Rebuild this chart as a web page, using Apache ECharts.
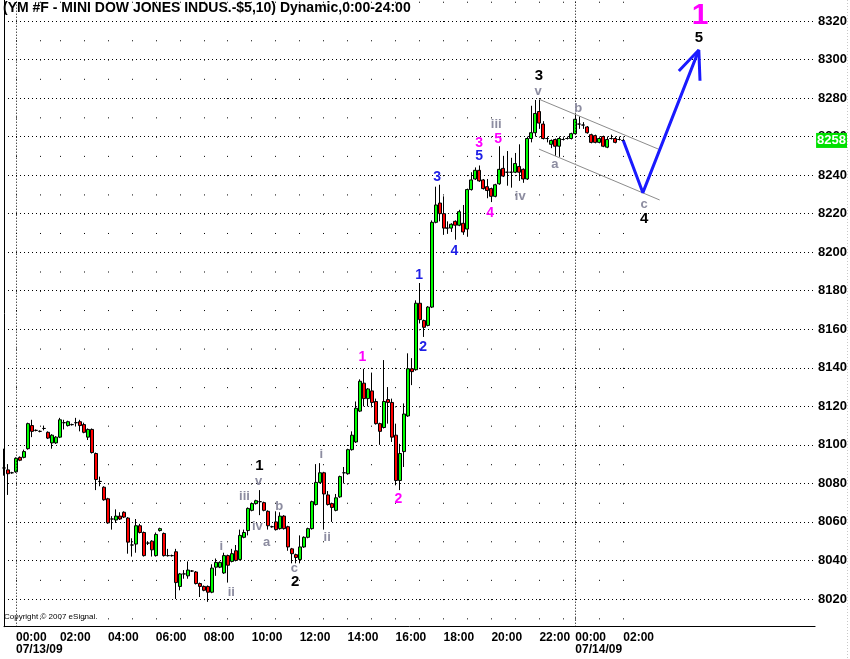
<!DOCTYPE html>
<html><head><meta charset="utf-8">
<script src="https://cdn.jsdelivr.net/npm/echarts@6/dist/echarts.min.js"></script>
<style>html,body{margin:0;padding:0;background:#fff}#c{width:850px;height:659px}</style>
</head><body><div id="c"></div>
<script>
// ---- 10-minute bars: [open, close, low, high] ----
const ohlc = [
[8088,8088,8084,8098],[8087,8085,8074,8090],[8085.5,8085.5,8085,8086],[8086,8093,8085.5,8093.5],[8093.5,8092,8091.5,8094],
[8093.5,8096.5,8093,8097.5],[8098,8111,8097.5,8111.5],[8110,8107,8104,8113],[8107.5,8107.5,8107,8108],[8107,8107,8106.5,8107.5],
[8108.5,8108.5,8107.5,8110],[8106.5,8103.5,8103,8107],[8101,8105,8098,8105.5],[8101,8104,8100.5,8104.5],[8104,8113,8103.5,8114],
[8111.5,8111.5,8108,8113],[8110,8112,8109.5,8112.5],[8110.5,8110.5,8110,8111],[8111.5,8111.5,8109.5,8114],[8112,8110,8107,8113],
[8110.5,8106.5,8106,8111.5],[8104,8108,8102.5,8108.5],[8108,8096,8095.5,8108.5],[8095.5,8082,8076.5,8096],[8081,8081,8078.5,8083.5],
[8078,8071.5,8071,8078.5],[8072,8059.5,8059,8072.5],[8061.5,8061.5,8056,8063],[8061,8063,8059.5,8066.5],[8063,8061.5,8061,8065],
[8065,8062.5,8062,8065.5],[8062,8049.5,8043.5,8062.5],[8048,8048,8042,8051.5],[8048.5,8058,8044,8061.5],[8058,8054.5,8054,8059],
[8054.5,8042.5,8042,8055],[8049,8049,8048,8050],[8050,8045.5,8042,8050.5],[8042.5,8053.5,8042,8054.5],[8055.5,8056.5,8055,8057],
[8054,8042.5,8042,8054.5],[8042.5,8042.5,8042,8046],[8042.5,8042.5,8042,8043],[8044.5,8028.5,8020,8046],[8026.5,8033,8024.5,8033.5],
[8033,8033,8030.5,8035],[8032,8035,8030.5,8039.5],[8034.5,8034.5,8034,8035],[8034,8028,8027.5,8034.5],[8028,8026.5,8021,8028.5],
[8026.5,8024.5,8024,8027],[8026.5,8023.5,8018.5,8027],[8023.5,8036,8023,8038],[8036.5,8039,8032,8041],[8036.5,8039,8036,8039.5],
[8033.5,8042.5,8033,8044],[8042.5,8037.5,8028.5,8043],[8039.5,8043.5,8039,8046],[8045,8040,8039.5,8048],[8040.5,8053,8040,8056],
[8052,8054.5,8051.5,8056],[8055.5,8067,8053,8067.5],[8066,8069.5,8065.5,8070],[8069.5,8071,8069,8071.5],[8070.5,8070.5,8063.5,8076.5],
[8070,8066,8065.5,8070.5],[8065.5,8058,8056,8066],[8057.5,8057.5,8057,8058],[8060,8056,8055.5,8065.5],[8056.5,8063,8056,8065],
[8063,8056.5,8056,8063.5],[8057.5,8047,8045,8058],[8046,8043.5,8038.5,8046.5],[8043,8041.5,8038.5,8043.5],[8040.5,8047,8038.5,8053],
[8047,8052,8046.5,8052.5],[8052,8056.5,8051.5,8057],[8056.5,8070.5,8056,8071],[8069,8080.5,8068.5,8090],[8080.5,8085.5,8080,8090.5],
[8085.5,8074.5,8056,8086],[8074,8069,8068.5,8076],[8069.5,8067.5,8060,8070],[8066,8072.5,8065.5,8074.5],[8073,8083.5,8072.5,8084],
[8085.5,8085.5,8080,8088.5],[8085,8097.5,8084.5,8098],[8097.5,8105,8097,8107],[8101.5,8119,8101,8122.5],[8117.5,8133,8117,8134],
[8132,8124,8120,8139.5],[8124,8129,8120,8129.5],[8128,8122,8120,8137.5],[8122.5,8111,8110.5,8124],[8111,8107,8100,8111.5],
[8109,8122.5,8108.5,8144],[8123.5,8122,8111,8130],[8122,8104,8101.5,8124],[8105,8081.5,8079,8111],[8081.5,8095.5,8076.5,8100.5],
[8096.5,8116,8088.5,8121.5],[8115,8139.5,8114.5,8147.5],[8139.5,8138,8131,8145],[8139,8173.5,8138.5,8175],[8173.5,8165,8163,8184],
[8164.5,8161,8156,8165],[8162,8171.5,8161.5,8172],[8171.5,8215.5,8171,8216.5],[8215.5,8224.5,8215,8234],[8225.5,8220,8216,8235],
[8220,8212.5,8209,8229],[8212.5,8212.5,8209.5,8216],[8212.5,8214.5,8210.5,8215],[8216,8214,8206.5,8216.5],[8214,8221,8213.5,8222],
[8215,8210.5,8209,8224.5],[8212,8232.5,8208,8233],[8232.5,8237.5,8232,8241.5],[8238,8242.5,8237.5,8244],[8242.5,8237,8236.5,8245],
[8237.5,8233,8232.5,8238],[8234,8232,8228,8238],[8233,8229,8226,8233.5],[8229,8235,8228.5,8235.5],[8235.5,8243,8235,8255],
[8243.5,8239.5,8239,8250],[8241.5,8241.5,8234.5,8252.5],[8241.5,8241.5,8233.5,8249],[8241.5,8246,8241,8251.5],[8244.5,8241.5,8237,8256],
[8243,8238,8236,8243.5],[8238,8259,8237.5,8260],[8259,8262,8257,8276],[8262,8272,8260,8279],[8273,8267,8264,8280],
[8266.5,8259,8258.5,8268],[8259,8259,8257,8260],[8256,8258,8254,8258.5],[8258.5,8255,8250,8259],[8255,8259,8249.5,8260],
[8258.5,8258.5,8258,8259.5],[8259,8259,8258.5,8260],[8259,8261.5,8258.5,8262],[8261.5,8269,8261,8271.5],[8266.5,8266.5,8264,8270.5],
[8266,8266,8264,8267.5],[8265,8262,8261.5,8265.5],[8261,8257,8256.5,8261.5],[8260.5,8257,8256.5,8261],[8257,8259,8256.5,8259.5],
[8260,8255,8254.5,8260.5],[8254.5,8258.5,8254,8260],[8259,8259,8258.5,8261],[8259,8257,8256.5,8260],[8258.5,8258.5,8258,8260],
[8258,8258,8257.5,8259]
];
const lastPrice = 8258;
const yTickValues = [8020,8040,8060,8080,8100,8120,8140,8160,8180,8200,8220,8240,8260,8280,8300,8320];

// ---- time categories (10-minute bars, some empty intervals absent) ----
const firstBars = ['07/12/09 23:00','07/12/09 23:20','07/12/09 23:40'];
const missingBars = ['07/13/09 01:30','07/13/09 23:10','07/13/09 23:30','07/13/09 23:50'];
const dayDates = ['07/13/09','07/14/09'];
const totalSlots = 204;
const categories = firstBars.slice();
for (const d of dayDates) {
  for (let m = 0; m < 1440 && categories.length < totalSlots; m += 10) {
    const t = d + ' ' + String(Math.floor(m/60)).padStart(2,'0') + ':' + String(m%60).padStart(2,'0');
    if (!missingBars.includes(t)) categories.push(t);
  }
}
const lastBar = ohlc.length - 1;

// ---- Elliott wave annotations: [text, barIndex, price] ----
const blackWaves = [['1',63.9,8089],['2',72.9,8028.8],['3',133.9,8291.4],['4',160.2,8217.2],['5',173.9,8311.2]];
const greyWaves = [['i',54.4,8047.5],['ii',56.9,8023.6],['iii',60.2,8073.4],['iv',63.4,8057.4],['v',63.7,8081.2],
  ['a',65.7,8049.6],['b',68.9,8068.2],['c',72.7,8036.1],['i',79.4,8095],['ii',80.9,8051.7],
  ['iii',123.2,8266.5],['iv',129.2,8228.7],['v',133.7,8283.7],['a',137.9,8245.3],['b',143.7,8274.8],['c',160.2,8225]];
const magentaWaves = [['1',89.7,8145.6],['2',98.7,8071.9],['3',118.9,8256.7],['4',121.7,8220.3],['5',123.7,8258.8]];
const blueWaves = [['1',103.9,8188.2],['2',104.9,8150.8],['3',108.4,8239],['4',112.7,8200.6],['5',118.9,8250]];
const bigWave = [['1',174.2,8322.6]];
// channel lines and projected path: [barIndex, price]
const channelUpper = [[133.9,8279.4],[163.9,8253.4]];
const channelLower = [[133.9,8253.5],[164.1,8227.1]];
const projection = [[155,8258],[159.9,8230.9],[173.9,8304.9]];
const arrowHead = [[168.9,8294],[173.9,8304.9],[174.2,8289]];

const FONT = '"Liberation Sans", Arial, sans-serif';
function hm(v){ return v.split(' ')[1]; }
function isHour(i, v){ return i <= lastBar && hm(v).endsWith(':00'); }
function isLabel(i, v){ return isHour(i, v) && (parseInt(hm(v)) % 2 === 0); }

function textSeries(items, color, size, weight) {
  return {
    type: 'scatter', xAxisIndex: 1, yAxisIndex: 0, symbolSize: 0, silent: true, z: 10,
    itemStyle: {color: color},
    data: items.map(a => ({name: a[0], value: [a[1], a[2]]})),
    label: {show: true, position: 'inside', formatter: '{b}', color: color, fontSize: size,
      fontWeight: weight, fontFamily: FONT, textBorderWidth: 0, textShadowBlur: 0, opacity: 1}
  };
}
function lineSeries(pts, color, width) {
  return {type: 'line', xAxisIndex: 1, yAxisIndex: 0, data: pts, symbol: 'none', silent: true, z: 8,
    lineStyle: {color: color, width: width}};
}
const dayLines = dayDates.map(d => ({
  xAxis: d + ' 00:00', lineStyle: {color: '#000', width: 1, type: [1, 2]},
  label: {show: true, position: 'start', formatter: d, distance: 17, align: 'left', verticalAlign: 'top',
    color: '#000', fontSize: 12, fontWeight: 'bold', fontFamily: FONT}
}));

const chart = echarts.init(document.getElementById('c'), null, {renderer: 'canvas'});
chart.setOption({
  animation: false,
  backgroundColor: '#fff',
  title: {text: '(YM #F - MINI DOW JONES INDUS.-$5,10) Dynamic,0:00-24:00', left: 1, top: 0, padding: [1, 2],
    textStyle: {fontSize: 14, fontWeight: 'bold', color: '#000', fontFamily: FONT}},
  grid: {left: 4, right: 34, top: 0, bottom: 32.3},
  xAxis: [{
    type: 'category', data: categories, boundaryGap: false,
    axisLine: {lineStyle: {color: '#000', width: 1}},
    axisTick: {show: false},
    axisLabel: {interval: isLabel, showMinLabel: true, showMaxLabel: true, hideOverlap: false,
      align: 'left', margin: 3, color: '#000', fontSize: 12, fontWeight: 'bold',
      fontFamily: FONT, lineHeight: 15, formatter: v => hm(v)},
    splitLine: {show: true, interval: isHour, lineStyle: {color: '#000', width: 1, type: [1, 18.27], dashOffset: 17.54}}
  }, {
    type: 'value', min: 0, max: totalSlots - 1, show: false
  }],
  yAxis: {
    type: 'value', position: 'right', min: 8005.6, max: 8330.9,
    axisLine: {show: true, lineStyle: {color: '#000', width: 1}},
    axisTick: {show: false, customValues: yTickValues},
    axisLabel: {customValues: yTickValues, formatter: v => String(v), margin: 3, color: '#000', fontSize: 13,
      fontWeight: 'bold', fontFamily: FONT},
    splitLine: {show: true, lineStyle: {color: '#000', width: 1, type: [1, 3]}}
  },
  graphic: [
    {type: 'text', left: 4, top: 613, silent: true,
      style: {text: 'Copyright \u00a9 2007 eSignal.', fill: '#000', font: '8px ' + FONT}},
    {type: 'line', silent: true, shape: {x1: 847.5, y1: 0, x2: 847.5, y2: 659},
      style: {stroke: '#c8c8c8', lineWidth: 1, lineDash: [1, 2]}}
  ],
  series: [
    {
      type: 'candlestick', xAxisIndex: 0, yAxisIndex: 0, data: ohlc, barWidth: 3.5, silent: true,
      itemStyle: {color: '#00ff00', color0: '#ff0000', borderColor: '#000', borderColor0: '#000', borderColorDoji: '#000', borderWidth: 1},
      markLine: {
        silent: true, symbol: 'none', animation: false,
        data: dayLines.concat([
          {yAxis: lastPrice, lineStyle: {color: 'rgba(0,0,0,0)', width: 0},
            label: {show: true, position: 'end', distance: 1, formatter: String(lastPrice), color: '#fff',
              backgroundColor: '#00e000', fontSize: 13, fontWeight: 'bold', fontFamily: FONT, padding: [1, 1, 0, 1], lineHeight: 14}}
        ])
      }
    },
    lineSeries(channelUpper, '#8c8c8c', 1),
    lineSeries(channelLower, '#8c8c8c', 1),
    lineSeries(projection, '#1a1aff', 3),
    lineSeries(arrowHead, '#1a1aff', 3),
    textSeries(greyWaves, '#8c8ca0', 13, 'bold'),
    textSeries(blackWaves, '#000', 15, 'bold'),
    textSeries(magentaWaves, '#ff00ff', 14, 'bold'),
    textSeries(blueWaves, '#1e1ee6', 14, 'bold'),
    textSeries(bigWave, '#ff00ff', 30, 'bold')
  ]
});
</script>
</body></html>
